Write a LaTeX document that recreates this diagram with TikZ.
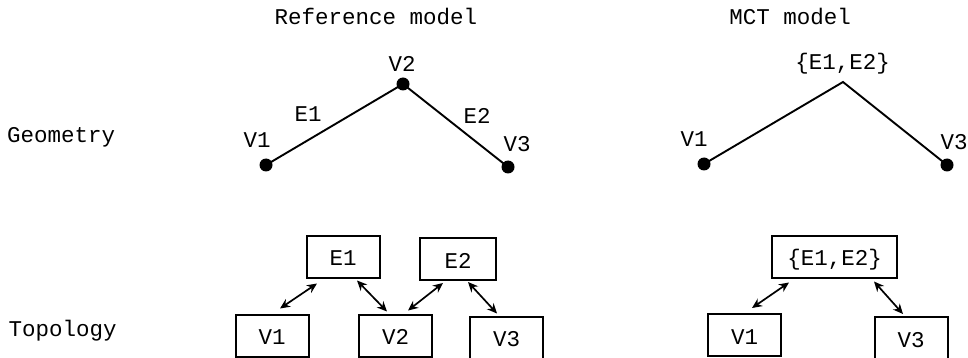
\documentclass[tikz,border=0pt]{standalone}
\usepackage{fontspec}
\setmonofont{Liberation Mono}
\usetikzlibrary{arrows.meta}

\begin{document}
\begin{tikzpicture}[x=1pt,y=-1pt,
    every node/.style={font=\ttfamily\fontsize{22.5}{26}\selectfont},
    lbl/.style={anchor=base,inner sep=0pt},
    dot/.style={circle,fill,inner sep=0pt,minimum size=13pt},
    edge/.style={line width=1.9pt},
    box/.style={draw,line width=2pt,minimum width=73pt,minimum height=42pt,
        inner ysep=0pt,inner xsep=15.5pt,text height=20pt,text depth=2pt},
    link/.style={line width=1.7pt,{Stealth[length=10pt,width=9pt]}-{Stealth[length=10pt,width=9pt]}}]
    \useasboundingbox (0,0) rectangle (968,358);

    % titles
    \node[lbl] (tref) at (376,25) {Reference model};
    \node[lbl] (tmct) at (790,25) {MCT model};
    \node[lbl,anchor=base west] (tgeo) at (7,143) {Geometry};
    \node[lbl,anchor=base west] (ttop) at (8.5,336) {Topology};

    % geometry, reference model
    \node[dot] (g1) at (266,165) {};
    \node[dot] (g2) at (403,84) {};
    \node[dot] (g3) at (508,167) {};
    \draw[edge] (g1.center) -- (g2.center) -- (g3.center);
    \node[lbl] (lv1) at (257,148) {V1};
    \node[lbl] (lv2) at (402,72) {V2};
    \node[lbl] (lv3) at (517,152) {V3};
    \node[lbl] (le1) at (308,122) {E1};
    \node[lbl] (le2) at (477,124) {E2};

    % geometry, MCT model
    \node[dot] (m1) at (704,164) {};
    \coordinate (mtop) at (843,82);
    \node[dot] (m3) at (947,165) {};
    \draw[edge] (m1.center) -- (mtop) -- (m3.center);
    \node[lbl] (lm1) at (694,147) {V1};
    \node[lbl] (lm3) at (954,150) {V3};
    \node[lbl] (lme) at (842.5,70) {\{E1,E2\}};

    % topology, reference model
    \node[box] (E1) at (343,256.5) {E1};
    \node[box,minimum width=76pt] (E2) at (458,259) {E2};
    \node[box] (V1) at (272,335.5) {V1};
    \node[box] (V2) at (395.5,335.5) {V2};
    \node[box] (V3) at (506.5,337.5) {V3};
    \draw[link] ([shift={(8,-5)}]V1.north) -- ([shift={(-26,5)}]E1.south);
    \draw[link] ([shift={(14,2)}]E1.south) -- ([shift={(-8.5,-2)}]V2.north);
    \draw[link] ([shift={(12.5,-3)}]V2.north) -- ([shift={(-15,2)}]E2.south);
    \draw[link] ([shift={(10,1)}]E2.south) -- ([shift={(-9.5,-2)}]V3.north);

    % topology, MCT model
    \node[box] (ME) at (834.5,256.5) {\{E1,E2\}};
    \node[box] (MV1) at (744.5,335) {V1};
    \node[box] (MV3) at (911,338) {V3};
    \draw[link] ([shift={(7.5,-5)}]MV1.north) -- ([shift={(-45.5,4)}]ME.south);
    \draw[link] ([shift={(39.5,3)}]ME.south) -- ([shift={(-8,-2)}]MV3.north);
\end{tikzpicture}
\end{document}
